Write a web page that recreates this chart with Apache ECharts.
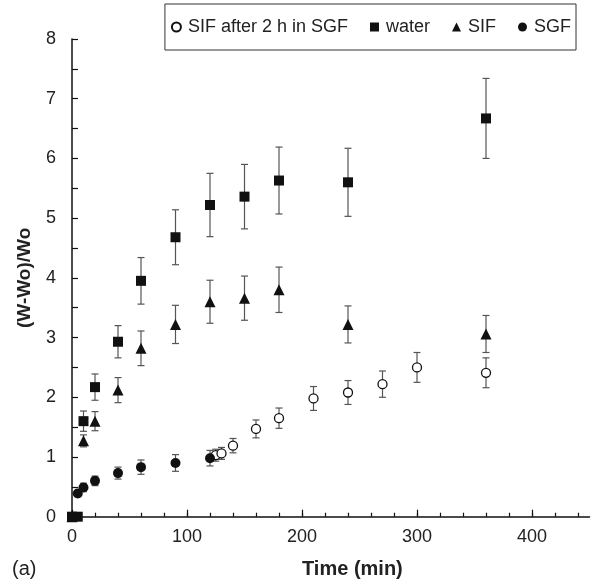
<!DOCTYPE html>
<html>
<head>
<meta charset="utf-8">
<script src="https://cdn.jsdelivr.net/npm/echarts@6/dist/echarts.min.js"></script>
<style>html,body{margin:0;padding:0;background:#fff;}#c{width:594px;height:585px;}</style>
</head>
<body>
<div id="c"></div>
<script>
// ---- data ----
const waterTime = [0, 5, 10, 20, 40, 60, 90, 120, 150, 180, 240, 360];
const waterVal  = [0, 0, 1.60, 2.17, 2.93, 3.95, 4.68, 5.22, 5.36, 5.63, 5.60, 6.67];
const waterErr  = [0, 0, 0.17, 0.22, 0.27, 0.39, 0.46, 0.53, 0.54, 0.56, 0.57, 0.67];

const sifTime = [0, 10, 20, 40, 60, 90, 120, 150, 180, 240, 360];
const sifVal  = [0, 1.27, 1.60, 2.12, 2.82, 3.22, 3.60, 3.66, 3.80, 3.22, 3.06];
const sifErr  = [0, 0.10, 0.16, 0.21, 0.29, 0.32, 0.36, 0.37, 0.38, 0.31, 0.31];

const sgfTime = [0, 5, 10, 20, 40, 60, 90, 120];
const sgfVal  = [0, 0.39, 0.49, 0.60, 0.73, 0.83, 0.90, 0.98];
const sgfErr  = [0, 0.05, 0.07, 0.08, 0.10, 0.12, 0.14, 0.13];

const afterTime = [125, 130, 140, 160, 180, 210, 240, 270, 300, 360];
const afterVal  = [1.03, 1.06, 1.19, 1.47, 1.65, 1.98, 2.08, 2.22, 2.50, 2.41];
const afterErr  = [0.10, 0.10, 0.12, 0.15, 0.17, 0.20, 0.20, 0.22, 0.25, 0.25];

const seriesNames = ['SIF after 2 h in SGF', 'water', 'SIF', 'SGF'];
const xLabelTicks = [0, 100, 200, 300, 400];
const xMinorTicks = [0, 20, 40, 60, 80, 100, 120, 140, 160, 180, 200, 220, 240, 260, 280, 300, 320, 340, 360, 380, 400, 420, 440];
const yTicks = [0, 1, 2, 3, 4, 5, 6, 7, 8];
const xTitle = 'Time (min)';
const yTitle = '(W-Wo)/Wo';
const panelLabel = '(a)';

// ---- build ----
const FONT = '"Liberation Sans", Arial, sans-serif';
const zip3 = (t, v, e) => t.map((x, i) => [x, v[i], e[i]]);

function errRender(params, api) {
  const x = api.value(0), y = api.value(1), e = api.value(2);
  if (!e) return null;
  const top = api.coord([x, y + e]);
  const bot = api.coord([x, y - e]);
  const w = 3.5;
  const st = { stroke: '#555', lineWidth: 1.2 };
  return {
    type: 'group',
    children: [
      { type: 'line', shape: { x1: top[0], y1: top[1], x2: bot[0], y2: bot[1] }, style: st },
      { type: 'line', shape: { x1: top[0] - w, y1: top[1], x2: top[0] + w, y2: top[1] }, style: st },
      { type: 'line', shape: { x1: bot[0] - w, y1: bot[1], x2: bot[0] + w, y2: bot[1] }, style: st }
    ]
  };
}

function errSeries(t, v, e) {
  return {
    type: 'custom', renderItem: errRender, data: zip3(t, v, e),
    encode: { x: 0, y: 1 }, z: 1, silent: true, clip: false
  };
}

const chart = echarts.init(document.getElementById('c'), null, { renderer: 'canvas' });
chart.setOption({
  animation: false,
  backgroundColor: '#fff',
  textStyle: { fontFamily: FONT },
  grid: { left: 72, right: 4.5, top: 39, bottom: 68.3, outerBoundsMode: 'none', containLabel: false },
  legend: {
    data: seriesNames,
    right: 18, top: 4,
    orient: 'horizontal',
    padding: [14, 5, 14, 6],
    itemWidth: 9, itemHeight: 9,
    itemGap: 22,
    borderColor: '#333', borderWidth: 1,
    textStyle: { fontFamily: FONT, fontSize: 18, color: '#222', padding: [0, 0, 0, 2] }
  },
  xAxis: [{
    type: 'value', min: 0, max: 450,
    axisLine: { show: true, onZero: false, lineStyle: { color: '#111', width: 1.5 } },
    axisTick: { show: true, inside: true, length: 4, customValues: xMinorTicks, lineStyle: { color: '#111', width: 1.2 } },
    axisLabel: { customValues: xLabelTicks, margin: 11, fontSize: 18, color: '#222', fontFamily: FONT },
    splitLine: { show: false }
  }, {
    type: 'value', min: 0, max: 450, position: 'bottom',
    axisLine: { show: false },
    axisTick: { show: true, inside: true, length: 7, customValues: xLabelTicks, lineStyle: { color: '#111', width: 1.2 } },
    axisLabel: { show: false },
    splitLine: { show: false }
  }],
  yAxis: {
    type: 'value', min: 0, max: 8, interval: 1,
    axisLine: { show: true, onZero: false, lineStyle: { color: '#111', width: 1.5 } },
    axisTick: { show: true, inside: true, length: 6, lineStyle: { color: '#111', width: 1.2 } },
    minorTick: { show: true, splitNumber: 2, length: 6, lineStyle: { color: '#111', width: 1.2 } },
    axisLabel: { customValues: yTicks, margin: 16, fontSize: 18, color: '#222', fontFamily: FONT },
    splitLine: { show: false },
    name: yTitle, nameLocation: 'middle', nameRotate: 90, nameGap: 38,
    nameTextStyle: { fontSize: 19, fontWeight: 'bold', color: '#222', fontFamily: FONT }
  },
  graphic: [
    { type: 'text', left: 357 - 55, top: 559, style: { text: xTitle, font: 'bold 20px ' + FONT, fill: '#222' } },
    { type: 'text', left: 12, top: 559, style: { text: panelLabel, font: '20px ' + FONT, fill: '#222' } }
  ],
  series: [
    errSeries(afterTime, afterVal, afterErr),
    errSeries(waterTime, waterVal, waterErr),
    errSeries(sifTime, sifVal, sifErr),
    errSeries(sgfTime, sgfVal, sgfErr),
    {
      name: seriesNames[0], type: 'scatter', symbol: 'circle', symbolSize: 9,
      data: afterTime.map((t, i) => [t, afterVal[i]]), z: 3, clip: false,
      itemStyle: { color: '#fff', borderColor: '#111', borderWidth: 1.3, opacity: 1 }
    },
    {
      name: seriesNames[1], type: 'scatter', symbol: 'rect', symbolSize: 10,
      data: waterTime.map((t, i) => [t, waterVal[i]]), z: 3, clip: false,
      itemStyle: { color: '#111', opacity: 1 }
    },
    {
      name: seriesNames[2], type: 'scatter', symbol: 'triangle', symbolSize: 11,
      data: sifTime.map((t, i) => [t, sifVal[i]]), z: 3, clip: false,
      itemStyle: { color: '#111', opacity: 1 }
    },
    {
      name: seriesNames[3], type: 'scatter', symbol: 'circle', symbolSize: 10,
      data: sgfTime.map((t, i) => [t, sgfVal[i]]), z: 3, clip: false,
      itemStyle: { color: '#111', opacity: 1 }
    }
  ]
});
</script>
</body>
</html>
